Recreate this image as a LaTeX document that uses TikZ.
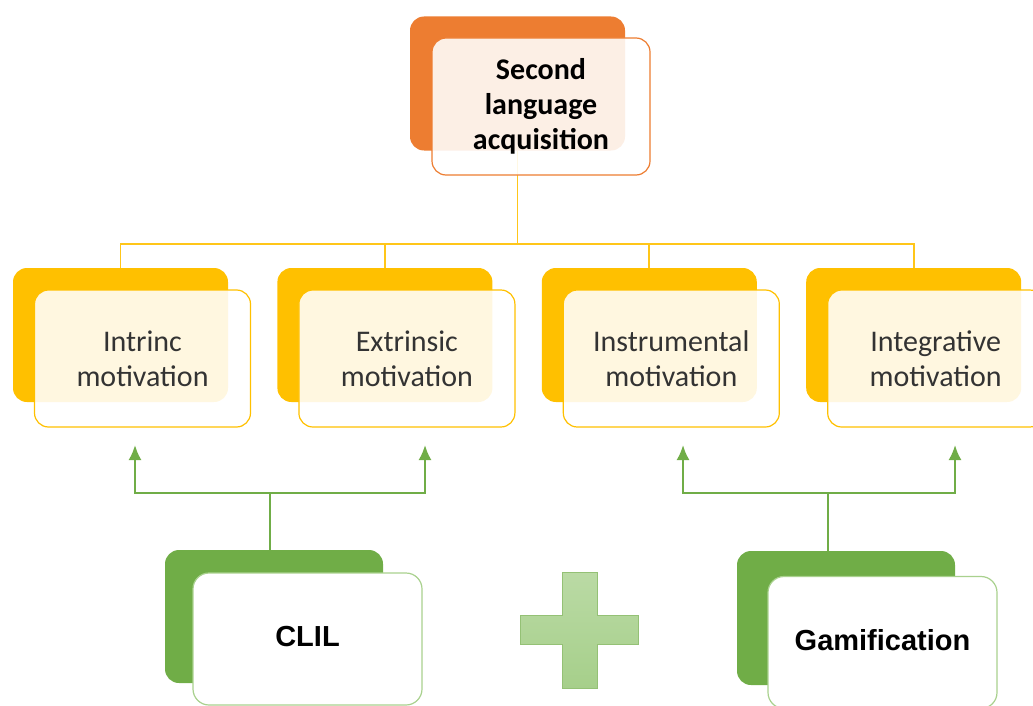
\documentclass[tikz,border=0pt]{standalone}
\usepackage{fontspec}
\setmainfont{Carlito}
\newfontfamily\arialfont{Liberation Sans}
\usetikzlibrary{arrows.meta,positioning}

\definecolor{accorange}{HTML}{ED7D31}
\definecolor{accyellow}{HTML}{FFC000}
\definecolor{accgreen}{HTML}{70AD47}
\definecolor{lightgreen}{HTML}{A9D18E}
\definecolor{textgray}{HTML}{333333}

\begin{document}
\begin{tikzpicture}[x=1pt,y=-1pt,
    back box/.style={rounded corners=14pt,minimum width=215pt,minimum height=134pt,inner sep=0pt},
    front box/.style={draw,rounded corners=14pt,minimum width=216pt,minimum height=137pt,inner sep=0pt,
        line width=1.2pt,align=center,fill=white,fill opacity=0.88,text opacity=1,
        font=\fontsize{30}{35}\selectfont,text=textgray},
    green box/.style={draw=lightgreen,rounded corners=16pt,minimum width=229pt,minimum height=132pt,inner sep=0pt,
        line width=1.2pt,fill=white,font=\arialfont\bfseries\fontsize{29}{34}\selectfont},
    yline/.style={draw=accyellow!90,line width=1.8pt},
    gline/.style={draw=accgreen,line width=2.2pt},
    garrow/.style={gline,-{Latex[length=15pt,width=13pt]}}]

  \useasboundingbox (0,0) rectangle (1033,706);

  % back boxes
  \node[back box,fill=accorange]  (slaback)   at (517.5,83.5) {};
  \node[back box,fill=accyellow]  (intrback)  at (120.5,335) {};
  \node[back box,fill=accyellow]  (extrback)  [right=49pt of intrback] {};
  \node[back box,fill=accyellow]  (instback)  [right=49pt of extrback] {};
  \node[back box,fill=accyellow]  (integback) [right=49pt of instback] {};
  \node[back box,fill=accgreen,minimum width=218pt,minimum height=133pt] (clilback) at (274,616.5) {};
  \node[back box,fill=accgreen,minimum width=218pt,minimum height=134pt] (gamback)  at (846,618) {};

  % tree lines
  \draw[yline] (slaback.south) -- ++(0,93) coordinate (yj);
  \draw[yline] (yj) -| (intrback.north);
  \draw[yline] (yj) -| (extrback.north);
  \draw[yline] (yj) -| (instback.north);
  \draw[yline] (yj) -| (integback.north);

  % front boxes
  \node[front box,draw=accorange,font=\bfseries\fontsize{30}{35}\selectfont,text=black,minimum width=218pt]
        (sla) at (slaback) [xshift=23.5pt,yshift=-23pt] {Second\\language\\acquisition};
  \node[front box,draw=accyellow] (intr)  at (intrback)  [xshift=22pt,yshift=-23.5pt] {Intrinc\\motivation};
  \node[front box,draw=accyellow] (extr)  at (extrback)  [xshift=22pt,yshift=-23.5pt] {Extrinsic\\motivation};
  \node[front box,draw=accyellow] (inst)  at (instback)  [xshift=22pt,yshift=-23.5pt] {Instrumental\\motivation};
  \node[front box,draw=accyellow] (integ) at (integback) [xshift=22pt,yshift=-23.5pt] {Integrative\\motivation};
  \node[green box] (clil) at (clilback) [xshift=33.5pt,yshift=-22.5pt] {\raisebox{6pt}{CLIL}};
  \node[green box] (gam)  at (gamback)  [xshift=36.5pt,yshift=-24.5pt] {\raisebox{5pt}{Gamification}};

  % arrows up to the motivations
  \coordinate (cj) at (270,493);
  \coordinate (gj) at (828,493);
  \coordinate (a1) at (135,445);
  \coordinate (a2) at (425,445);
  \coordinate (a3) at (683,445);
  \coordinate (a4) at (955,445);
  \draw[gline] (cj |- clilback.north) -- (cj);
  \draw[garrow] (cj) -| (a1);
  \draw[garrow] (cj) -| (a2);
  \draw[gline] (gj |- gamback.north) -- (gj);
  \draw[garrow] (gj) -| (a3);
  \draw[garrow] (gj) -| (a4);

  % plus sign
  \path[draw=accgreen!75,line width=1pt,top color=lightgreen!80!white,bottom color=lightgreen!95!accgreen]
    (562,572) -- (597,572) -- (597,615) -- (638,615) -- (638,644) -- (597,644) -- (597,688)
    -- (562,688) -- (562,644) -- (520,644) -- (520,615) -- (562,615) -- cycle;

\end{tikzpicture}
\end{document}
